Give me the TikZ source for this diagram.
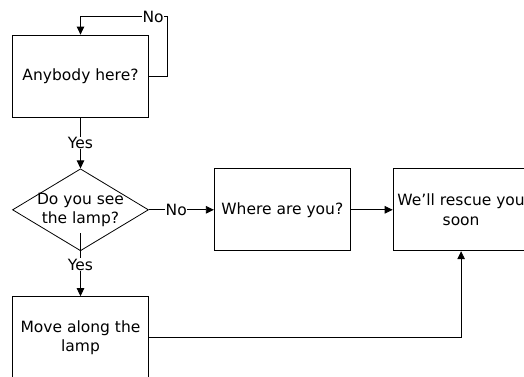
\documentclass[tikz,border=0pt]{standalone}
\usepackage{fontspec}
\setmainfont{DejaVu Sans}
\usetikzlibrary{positioning,shapes.geometric,arrows.meta}

\begin{document}
\begin{tikzpicture}[x=1pt,y=1pt,
		box/.style={draw,line width=0.8pt,minimum width=136pt,minimum height=82pt,inner sep=0pt,align=center,font=\fontsize{15.5}{19.5}\selectfont},
		decision/.style={diamond,draw,line width=0.8pt,minimum width=136pt,minimum height=82pt,aspect=1.65,inner sep=-7pt,align=center,font=\fontsize{15.5}{19.5}\selectfont},
		flow/.style={line width=0.8pt,-{Triangle[length=8pt,width=7.5pt]}},
		lbl/.style={fill=white,inner sep=0.5pt,font=\fontsize{15.5}{17}\selectfont}]
		\useasboundingbox (0,0) rectangle (524,376);
		\node[box]												(anybody)	at (80.5,300)	{Anybody here?};
		\node[decision,node distance=51pt,below=of anybody]	(lamp)		{Do you see\\the lamp?};
		\node[box,node distance=65pt,right=of lamp]				(where)		{Where are you?};
		\node[box,node distance=42pt,right=of where]			(rescue)	{We'll rescue you\\soon};
		\node[box,node distance=45pt,below=of lamp]				(move)		{Move along the\\lamp};
		\coordinate[xshift=18pt,yshift=18pt] (loop) at (anybody.north east);

		\draw[flow] (anybody.east) -| (loop) -| node[lbl,pos=0.08] {No} (anybody.north);
		\draw[flow] (anybody.south) -- node[lbl] {Yes} (lamp.north);
		\draw[flow] (lamp.east) -- node[lbl,pos=0.42] {No} (where.west);
		\draw[flow] ([yshift=18pt]lamp.south) -- node[lbl] {Yes} (move.north);
		\draw[flow] (where.east) -- (rescue.west);
		\draw[flow] (move.east) -| (rescue.south);
	\end{tikzpicture}
\end{document}
